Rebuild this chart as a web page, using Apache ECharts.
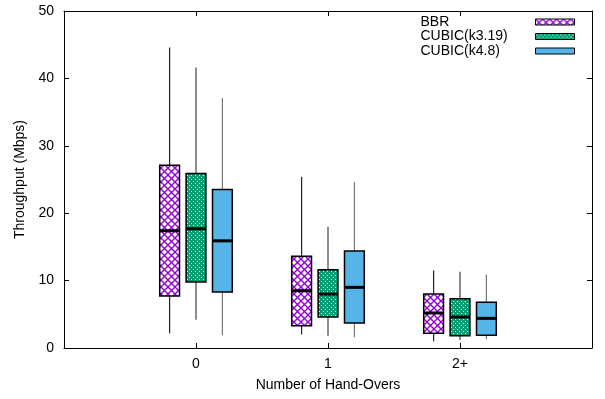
<!DOCTYPE html>
<html>
<head>
<meta charset="utf-8">
<script src="https://cdn.jsdelivr.net/npm/echarts@6/dist/echarts.min.js"></script>
<style>
html, body { margin: 0; padding: 0; background: #fff; }
#chart { width: 605px; height: 399px; }
</style>
</head>
<body>
<div id="chart"></div>
<script>
// categories on the x axis (positions 0, 1, 2)
const groups = ['0', '1', '2+']
const seriesNames = ['BBR', 'CUBIC(k3.19)', 'CUBIC(k4.8)']

// [min, q1, median, q3, max] for each group
const bbr = [
  [2.2, 7.7, 17.4, 27.1, 44.6],
  [2.0, 3.3, 8.5, 13.6, 25.4],
  [1.0, 2.2, 5.2, 8.0, 11.5]
]
const cubic319 = [
  [4.2, 9.8, 17.7, 25.9, 41.6],
  [1.8, 4.6, 8.0, 11.6, 18.0],
  [1.2, 1.8, 4.6, 7.3, 11.3]
]
const cubic48 = [
  [1.9, 8.3, 15.9, 23.5, 37.1],
  [1.6, 3.7, 9.0, 14.4, 24.6],
  [1.3, 1.9, 4.4, 6.8, 10.9]
]

const FONT = 'Liberation Sans'
const BOX_W = 0.15
const OFFSETS = [-0.2, 0, 0.2]
const WHISKER = ['#222', '#444', '#777']

function makePattern(kind) {
  const c = document.createElement('canvas')
  if (kind === 'cross') {
    c.width = 7
    c.height = 7
    const ctx = c.getContext('2d')
    ctx.fillStyle = '#fff'
    ctx.fillRect(0, 0, 7, 7)
    ctx.strokeStyle = '#9400d3'
    ctx.lineWidth = 1.4
    ctx.beginPath()
    ctx.moveTo(-1, -1); ctx.lineTo(8, 8)
    ctx.moveTo(8, -1); ctx.lineTo(-1, 8)
    ctx.stroke()
  } else {
    c.width = 4
    c.height = 4
    const ctx = c.getContext('2d')
    ctx.fillStyle = '#009e73'
    ctx.fillRect(0, 0, 4, 4)
    ctx.fillStyle = '#fff'
    ctx.fillRect(1, 1, 1, 1)
    ctx.fillRect(3, 3, 1, 1)
  }
  return { image: c, repeat: 'repeat' }
}

const fills = [makePattern('cross'), makePattern('dots'), '#56b4e9']
const allData = [bbr, cubic319, cubic48]

function renderBox(si) {
  return function (params, api) {
    const x = api.value(0) + OFFSETS[si]
    const lo = api.coord([x, api.value(1)])
    const q1 = api.coord([x, api.value(2)])
    const med = api.coord([x, api.value(3)])
    const q3 = api.coord([x, api.value(4)])
    const hi = api.coord([x, api.value(5)])
    const w = api.size([BOX_W, 0])[0]
    return {
      type: 'group',
      children: [
        {
          type: 'line',
          shape: { x1: lo[0], y1: lo[1], x2: q1[0], y2: q1[1] },
          style: { stroke: WHISKER[si], lineWidth: 1.2 }
        },
        {
          type: 'line',
          shape: { x1: q3[0], y1: q3[1], x2: hi[0], y2: hi[1] },
          style: { stroke: WHISKER[si], lineWidth: 1.2 }
        },
        {
          type: 'rect',
          shape: { x: q3[0] - w / 2, y: q3[1], width: w, height: q1[1] - q3[1] },
          style: { fill: fills[si], stroke: '#000', lineWidth: 1.5 }
        },
        {
          type: 'line',
          shape: { x1: med[0] - w / 2, y1: med[1], x2: med[0] + w / 2, y2: med[1] },
          style: { stroke: '#000', lineWidth: 3 }
        }
      ]
    }
  }
}

const chart = echarts.init(document.getElementById('chart'))

const xBase = {
  type: 'value',
  min: -1,
  max: 3,
  interval: 1,
  splitLine: { show: false },
  axisLine: { onZero: false, lineStyle: { color: '#000', width: 1 } },
  axisTick: { inside: true, length: 5, lineStyle: { color: '#000' } }
}
const yBase = {
  type: 'value',
  min: 0,
  max: 50,
  interval: 10,
  splitLine: { show: false },
  axisLine: { show: true, onZero: false, lineStyle: { color: '#000', width: 1 } },
  axisTick: { show: true, inside: true, length: 5, lineStyle: { color: '#000' } }
}

chart.setOption({
  animation: false,
  grid: { left: 64, right: 13, top: 11, bottom: 51 },
  textStyle: { fontFamily: FONT },
  legend: {
    orient: 'vertical',
    right: 30,
    top: 15,
    padding: 0,
    align: 'right',
    itemWidth: 39,
    itemHeight: 6,
    itemGap: 0.5,
    formatter: name => `{t|${name}}`,
    textStyle: {
      fontFamily: FONT,
      fontSize: 14,
      color: '#000',
      rich: { t: { width: 110, align: 'left', fontSize: 14, lineHeight: 14, fontFamily: FONT, color: '#000' } }
    },
    data: seriesNames.map((n, i) => ({
      name: n,
      icon: 'rect',
      itemStyle: { color: fills[i], borderColor: '#000', borderWidth: 1 }
    }))
  },
  xAxis: [
    Object.assign({}, xBase, {
      position: 'bottom',
      name: 'Number of Hand-Overs',
      nameLocation: 'middle',
      nameGap: 30,
      nameTextStyle: { fontFamily: FONT, fontSize: 14, color: '#000' },
      axisLabel: {
        fontFamily: FONT,
        fontSize: 14,
        color: '#000',
        margin: 9,
        formatter: v => (groups[v] !== undefined ? groups[v] : '')
      }
    }),
    Object.assign({}, xBase, { position: 'top', axisLabel: { show: false } })
  ],
  yAxis: [
    Object.assign({}, yBase, {
      position: 'left',
      name: 'Throughput (Mbps)',
      nameLocation: 'middle',
      nameRotate: 90,
      nameGap: 29,
      nameTextStyle: { fontFamily: FONT, fontSize: 14, color: '#000' },
      axisLabel: { fontFamily: FONT, fontSize: 14, color: '#000', margin: 10 }
    }),
    Object.assign({}, yBase, { position: 'right', axisLabel: { show: false } })
  ],
  series: allData.map((d, si) => ({
    name: seriesNames[si],
    type: 'custom',
    xAxisIndex: 0,
    yAxisIndex: 0,
    itemStyle: { color: fills[si], borderColor: '#000' },
    encode: { x: 0, y: [1, 2, 3, 4, 5] },
    data: d.map((v, gi) => [gi].concat(v)),
    renderItem: renderBox(si)
  }))
})
</script>
</body>
</html>
